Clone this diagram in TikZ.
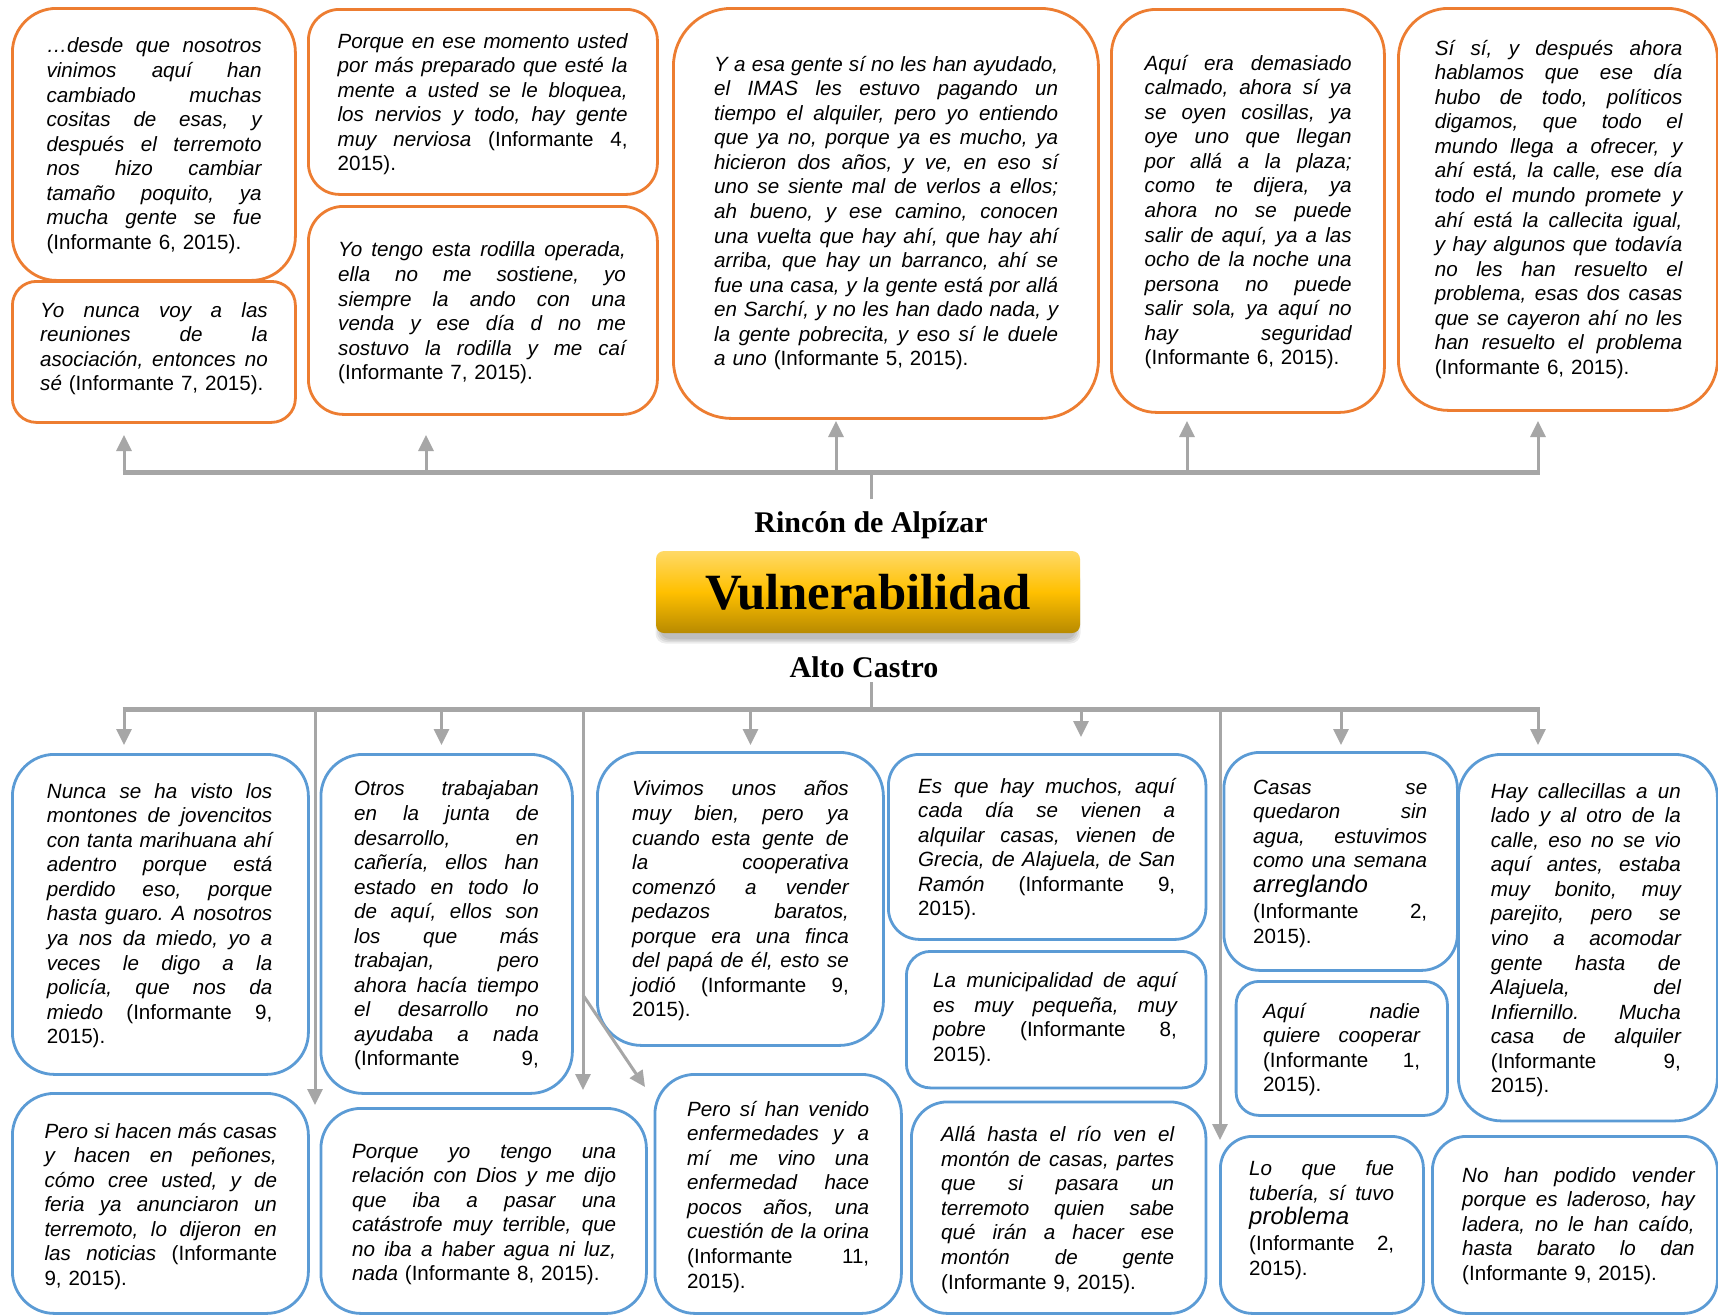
\documentclass[tikz,border=0pt]{standalone}
\usepackage{fontspec}
\setmainfont{Liberation Serif}
\newfontfamily\arialf{Liberation Sans}
\usetikzlibrary{arrows.meta}
\definecolor{oborder}{HTML}{ED7D31}
\definecolor{bborder}{HTML}{5B9BD5}
\definecolor{conncol}{HTML}{A6A6A6}
\definecolor{gtop}{HTML}{FFD966}
\definecolor{gmid}{HTML}{FFC000}
\definecolor{gbot}{HTML}{B88A00}
\newcommand\J[1]{\leavevmode\hbox to \hsize{\spaceskip=0.278em plus 1fil\relax\xspaceskip=\spaceskip #1}}
\newcommand\FL{\noindent\rule{0pt}{20pt}}
\newcommand\cit[1]{\textup{#1}}
\newcommand\bigw[1]{{\fontsize{24}{24.55}\selectfont #1}}
\tikzset{
  obox/.style={draw=oborder, line width=2.8pt, fill=white, inner sep=0pt, anchor=north west},
  bbox/.style={draw=bborder, line width=2.8pt, fill=white, inner sep=0pt, anchor=north west},
  quote/.style={anchor=north west, inner sep=0pt, align=left, font=\arialf\itshape\frenchspacing\fontsize{20.6}{24.55}\selectfont},
  stemline/.style={draw=conncol, line width=3pt},
  barline/.style={draw=conncol, line width=5pt},
  arr/.style={draw=conncol, line width=3pt, -{Triangle[length=16pt,width=15pt]}},
  hub/.style={font=\bfseries\fontsize{30}{36}\selectfont, inner sep=0pt, anchor=base},
}
\newcommand\qbox[7]{\node[#2, rounded corners=#7pt, minimum width=#5pt, minimum height=#6pt] (#1) at (#3,#4) {};}
\begin{document}
\begin{tikzpicture}[x=1pt,y=-1pt]
\useasboundingbox (0,0) rectangle (1718,1315);
\fill[white] (0,0) rectangle (1718,1315);

% ---------- top boxes (orange) ----------
\qbox{t1}{obox}{11}{7}{283}{272}{44}
\qbox{t2}{obox}{11}{280}{283}{141}{24}
\qbox{t3}{obox}{307}{8}{349}{185}{31}
\qbox{t4}{obox}{307}{205}{349}{208}{35}
\qbox{t5}{obox}{672}{7}{425}{410}{58}
\qbox{t6}{obox}{1110}{8}{273}{403}{45}
\qbox{t7}{obox}{1397}{7}{319}{402}{50}

\node[quote, text width=215pt] (t1q) at (46.4,32.7) {\FL\J{…desde que nosotros}\\\J{vinimos aquí han}\\\J{cambiado muchas}\\\J{cositas de esas, y}\\\J{después el terremoto}\\\J{nos hizo cambiar}\\\J{tamaño poquito, ya}\\\J{mucha gente se fue}\\\cit{(Informante 6, 2015).}};

\node[quote, text width=227.6pt] (t2q) at (40,297) {\FL\J{Yo nunca voy a las}\\\J{reuniones de la}\\\J{asociación, entonces no}\\sé \cit{(Informante 7, 2015).}};

\node[quote, text width=290pt] (t3q) at (337.4,28) {\FL\J{Porque en ese momento usted}\\\J{por más preparado que esté la}\\\J{mente a usted se le bloquea,}\\\J{los nervios y todo, hay gente}\\\J{muy nerviosa \cit{(Informante 4,}}\\\cit{2015).}};

\node[quote, text width=287.6pt] (t4q) at (338,236.7) {\FL\J{Yo tengo esta rodilla operada,}\\\J{ella no me sostiene, yo}\\\J{siempre la ando con una}\\\J{venda y ese día d no me}\\\J{sostuvo la rodilla y me caí}\\\cit{(Informante 7, 2015).}};

\node[quote, text width=344pt] (t5q) at (714,51) {\FL\J{Y a esa gente sí no les han ayudado,}\\\J{el IMAS les estuvo pagando un}\\\J{tiempo el alquiler, pero yo entiendo}\\\J{que ya no, porque ya es mucho, ya}\\\J{hicieron dos años, y ve, en eso sí}\\\J{uno se siente mal de verlos a ellos;}\\\J{ah bueno, y ese camino, conocen}\\\J{una vuelta que hay ahí, que hay ahí}\\\J{arriba, que hay un barranco, ahí se}\\\J{fue una casa, y la gente está por allá}\\\J{en Sarchí, y no les han dado nada, y}\\\J{la gente pobrecita, y eso sí le duele}\\a uno \cit{(Informante 5, 2015).}};

\node[quote, text width=207pt] (t6q) at (1144.5,50) {\FL\J{Aquí era demasiado}\\\J{calmado, ahora sí ya}\\\J{se oyen cosillas, ya}\\\J{oye uno que llegan}\\\J{por allá a la plaza;}\\\J{como te dijera, ya}\\\J{ahora no se puede}\\\J{salir de aquí, ya a las}\\\J{ocho de la noche una}\\\J{persona no puede}\\\J{salir sola, ya aquí no}\\\J{hay seguridad}\\\cit{(Informante 6, 2015).}};

\node[quote, text width=247.6pt] (t7q) at (1434.6,35) {\FL\J{Sí sí, y después ahora}\\\J{hablamos que ese día}\\\J{hubo de todo, políticos}\\\J{digamos, que todo el}\\\J{mundo llega a ofrecer, y}\\\J{ahí está, la calle, ese día}\\\J{todo el mundo promete y}\\\J{ahí está la callecita igual,}\\\J{y hay algunos que todavía}\\\J{no les han resuelto el}\\\J{problema, esas dos casas}\\\J{que se cayeron ahí no les}\\\J{han resuelto el problema}\\\cit{(Informante 6, 2015).}};

% ---------- bottom boxes (blue) ----------
\qbox{b1}{bbox}{11}{753}{296}{320}{42}
\qbox{b2}{bbox}{11}{1092}{296}{220}{42}
\qbox{b3}{bbox}{319.5}{753}{251.5}{339}{42}
\qbox{b4}{bbox}{319.5}{1107}{325.5}{205}{40}
\qbox{b5}{bbox}{596}{751}{286}{293}{44}
\qbox{b6}{bbox}{653.5}{1073}{246.5}{239}{40}
\qbox{b7}{bbox}{887}{753}{317.5}{185}{31}
\qbox{b8}{bbox}{905}{950}{299.5}{136.5}{24}
\qbox{b9}{bbox}{910}{1100.5}{294.5}{211.5}{36}
\qbox{b10}{bbox}{1222.5}{751}{233.5}{218}{36}
\qbox{b11}{bbox}{1234.7}{980}{211.3}{134}{23}
\qbox{b12}{bbox}{1219}{1135}{203}{177}{32}
\qbox{b13}{bbox}{1457}{753}{259}{366.5}{43}
\qbox{b14}{bbox}{1431}{1135}{285}{177}{34}

\node[quote, text width=225.4pt] (b1q) at (46.7,778) {\FL\J{Nunca se ha visto los}\\\J{montones de jovencitos}\\\J{con tanta marihuana ahí}\\\J{adentro porque está}\\\J{perdido eso, porque}\\\J{hasta guaro. A nosotros}\\\J{ya nos da miedo, yo a}\\\J{veces le digo a la}\\\J{policía, que nos da}\\\J{miedo \cit{(Informante 9,}}\\\cit{2015).}};

\node[quote, text width=232.5pt] (b2q) at (44.3,1118) {\FL\J{Pero si hacen más casas}\\\J{y hacen en peñones,}\\\J{cómo cree usted, y de}\\\J{feria ya anunciaron un}\\\J{terremoto, lo dijeron en}\\\J{las noticias \cit{(Informante}}\\\cit{9, 2015).}};

\node[quote, text width=184.7pt] (b3q) at (354,775.7) {\FL\J{Otros trabajaban}\\\J{en la junta de}\\\J{desarrollo, en}\\\J{cañería, ellos han}\\\J{estado en todo lo}\\\J{de aquí, ellos son}\\\J{los que más}\\\J{trabajan, pero}\\\J{ahora hacía tiempo}\\\J{el desarrollo no}\\\J{ayudaba a nada}\\\J{\cit{(Informante 9,}}};

\node[quote, text width=264pt] (b4q) at (352,1138) {\FL\J{Porque yo tengo una}\\\J{relación con Dios y me dijo}\\\J{que iba a pasar una}\\\J{catástrofe muy terrible, que}\\\J{no iba a haber agua ni luz,}\\nada \cit{(Informante 8, 2015).}};

\node[quote, text width=216.6pt] (b5q) at (632,775.7) {\FL\J{Vivimos unos años}\\\J{muy bien, pero ya}\\\J{cuando esta gente de}\\\J{la cooperativa}\\\J{comenzó a vender}\\\J{pedazos baratos,}\\\J{porque era una finca}\\\J{del papá de él, esto se}\\\J{jodió \cit{(Informante 9,}}\\\cit{2015).}};

\node[quote, text width=182pt] (b6q) at (687,1096) {\FL\J{Pero sí han venido}\\\J{enfermedades y a}\\\J{mí me vino una}\\\J{enfermedad hace}\\\J{pocos años, una}\\\J{cuestión de la orina}\\\J{\cit{(Informante 11,}}\\\cit{2015).}};

\node[quote, text width=257pt] (b7q) at (918,773) {\FL\J{Es que hay muchos, aquí}\\\J{cada día se vienen a}\\\J{alquilar casas, vienen de}\\\J{Grecia, de Alajuela, de San}\\\J{Ramón \cit{(Informante 9,}}\\\cit{2015).}};

\node[quote, text width=243.7pt] (b8q) at (933,967.5) {\FL\J{La municipalidad de aquí}\\\J{es muy pequeña, muy}\\\J{pobre \cit{(Informante 8,}}\\\cit{2015).}};

\node[quote, text width=233pt] (b9q) at (941,1121.5) {\FL\J{Allá hasta el río ven el}\\\J{montón de casas, partes}\\\J{que si pasara un}\\\J{terremoto quien sabe}\\\J{qué irán a hacer ese}\\\J{montón de gente}\\\cit{(Informante 9, 2015).}};

\node[quote, text width=174pt] (b10q) at (1253,774) {\FL\J{Casas se}\\\J{quedaron sin}\\\J{agua, estuvimos}\\\J{como una semana}\\\bigw{arreglando}\\[2pt]\J{\cit{(Informante 2,}}\\\cit{2015).}};

\node[quote, text width=157pt] (b11q) at (1262.8,998) {\FL\J{Aquí nadie}\\\J{quiere cooperar}\\\J{\cit{(Informante 1,}}\\\cit{2015).}};

\node[quote, text width=145pt] (b12q) at (1249,1155.6) {\FL\J{Lo que fue}\\\J{tubería, sí tuvo}\\\bigw{problema}\\[1pt]\J{\cit{(Informante 2,}}\\\cit{2015).}};

\node[quote, text width=190pt] (b13q) at (1490.7,778) {\FL\J{Hay callecillas a un}\\\J{lado y al otro de la}\\\J{calle, eso no se vio}\\\J{aquí antes, estaba}\\\J{muy bonito, muy}\\\J{parejito, pero se}\\\J{vino a acomodar}\\\J{gente hasta de}\\\J{Alajuela, del}\\\J{Infiernillo. Mucha}\\\J{casa de alquiler}\\\J{\cit{(Informante 9,}}\\\cit{2015).}};

\node[quote, text width=232.5pt] (b14q) at (1462,1162) {\FL\J{No han podido vender}\\\J{porque es laderoso, hay}\\\J{ladera, no le han caído,}\\\J{hasta barato lo dan}\\\cit{(Informante 9, 2015).}};

% ---------- centre ----------
\foreach \d in {0,1.5,3,4.5}{\fill[black,opacity=0.07,rounded corners=10pt] (660-\d,570) rectangle (1076+\d,639+\d);}
\node[rounded corners=8pt, minimum width=424pt, minimum height=82pt, inner sep=0pt,
      top color=gtop, bottom color=gbot, middle color=gmid,
      font=\bfseries\fontsize{50.8}{60}\selectfont] (vul) at (868,592) {Vulnerabilidad};
\node[hub] (rincon) at (871,532.5) {Rincón de Alpízar};
\node[hub] (alto) at (864,677) {Alto Castro};

% ---------- top connectors ----------
\coordinate (tstem) at (871,499);
\coordinate (tjoin) at (871,472);
\coordinate (tbarL) at (122.5,472);
\coordinate (tbarR) at (1539.5,472);
\foreach \n/\x/\t in {1/124/435, 2/426/435, 3/836/421, 4/1187/421, 5/1538/421}{
  \coordinate (tbase\n) at (\x,472);
  \coordinate (ttip\n) at (\x,\t);
}
\draw[stemline] (tstem) -- (tjoin);
\draw[barline] (tbarL) -- (tbarR);
\foreach \n in {1,...,5}{\draw[arr] (tbase\n) -- (ttip\n);}

% ---------- bottom connectors ----------
\coordinate (bstem) at (871,682);
\coordinate (bjoin) at (871,709);
\coordinate (bbarL) at (122.5,709);
\coordinate (bbarR) at (1539.5,709);
\foreach \n/\x/\t in {1/124/745, 2/315/1105, 3/441.5/745, 4/583/1090, 5/750.5/745, 6/1081/737, 7/1220/1140, 8/1341/745, 9/1538/745}{
  \coordinate (bbase\n) at (\x,709);
  \coordinate (btip\n) at (\x,\t);
}
\draw[stemline] (bstem) -- (bjoin);
\draw[barline] (bbarL) -- (bbarR);
\foreach \n in {1,...,9}{\draw[arr] (bbase\n) -- (btip\n);}
\coordinate (dstart) at (583,995);
\coordinate (dtip) at (645,1087);
\draw[arr] (dstart) -- (dtip);
\end{tikzpicture}
\end{document}
